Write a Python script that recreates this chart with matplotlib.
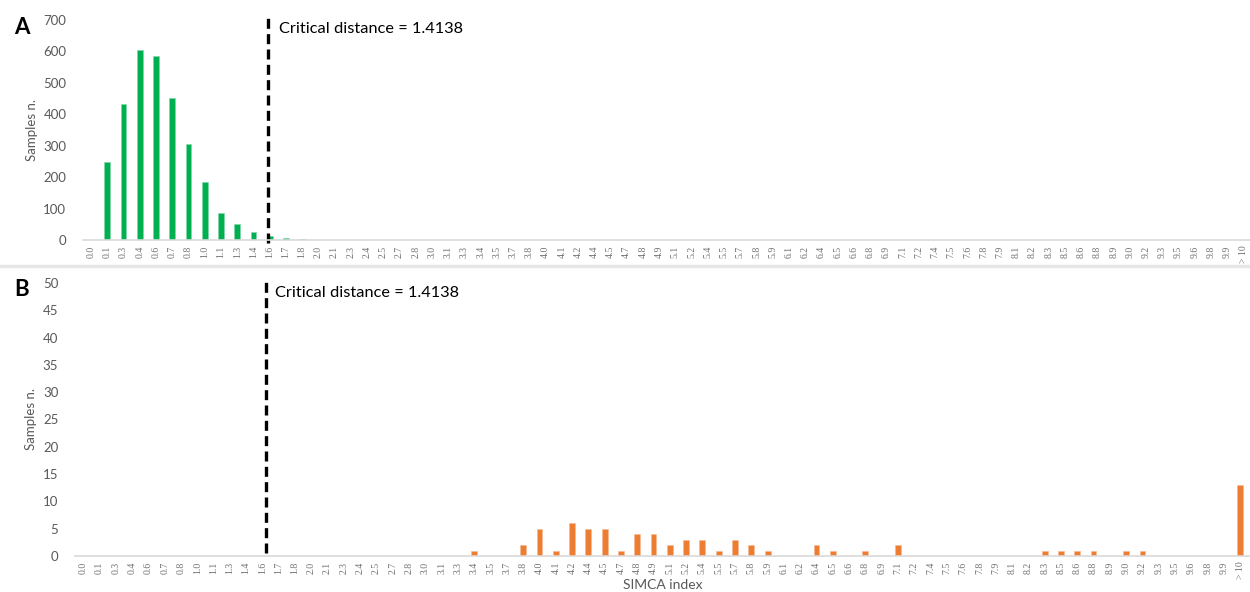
import numpy as np
import matplotlib
matplotlib.use('Agg')
import matplotlib.pyplot as plt

plt.rcParams['font.family'] = ['Lato', 'DejaVu Sans']

# bin labels (multiples of the critical distance / 10)
labels = ['0.0', '0.1', '0.3', '0.4', '0.6', '0.7', '0.8', '1.0', '1.1', '1.3', '1.4', '1.6',
          '1.7', '1.8', '2.0', '2.1', '2.3', '2.4', '2.5', '2.7', '2.8', '3.0', '3.1', '3.3',
          '3.4', '3.5', '3.7', '3.8', '4.0', '4.1', '4.2', '4.4', '4.5', '4.7', '4.8', '4.9',
          '5.1', '5.2', '5.4', '5.5', '5.7', '5.8', '5.9', '6.1', '6.2', '6.4', '6.5', '6.6',
          '6.8', '6.9', '7.1', '7.2', '7.4', '7.5', '7.6', '7.8', '7.9', '8.1', '8.2', '8.3',
          '8.5', '8.6', '8.8', '8.9', '9.0', '9.2', '9.3', '9.5', '9.6', '9.8', '9.9', '> 10']

# panel A: counts in the first bins, rest zero
countsA_head = [0, 247, 432, 604, 584, 453, 304, 183, 87, 51, 27, 14, 6, 3]
countsA = countsA_head + [0] * (len(labels) - len(countsA_head))

# panel B: non-zero bins
countsB_nz = {'3.4': 1, '3.8': 2, '4.0': 5, '4.1': 1, '4.2': 6, '4.4': 5, '4.5': 5,
              '4.7': 1, '4.8': 4, '4.9': 4, '5.1': 2, '5.2': 3, '5.4': 3, '5.5': 1,
              '5.7': 3, '5.8': 2, '5.9': 1, '6.4': 2, '6.5': 1, '6.8': 1, '7.1': 2,
              '8.3': 1, '8.5': 1, '8.6': 1, '8.8': 1, '9.0': 1, '9.2': 1, '> 10': 13}
countsB = [countsB_nz.get(l, 0) for l in labels]

crit_text = 'Critical distance = 1.4138'
gray = '#595959'

fig = plt.figure(figsize=(12.5, 5.92), dpi=100)
axA = fig.add_axes([83/1250, 1 - 240/592, 1 - 83/1250, 220/592])
axB = fig.add_axes([75/1250, 1 - 556/592, 1 - 75/1250, 273/592])

x = np.arange(len(labels))

def style(ax, ymax, step, xmax):
    ax.set_xlim(-0.5, xmax)
    ax.set_ylim(0, ymax)
    ax.set_yticks(np.arange(0, ymax + 1, step))
    ax.set_xticks(x)
    ax.set_xticklabels(labels, rotation=90, fontsize=7, color='#707070',
                       family=['Liberation Serif', 'DejaVu Serif'])
    ax.tick_params(axis='y', labelsize=9.5, labelcolor=gray, length=0, pad=12)
    ax.tick_params(axis='x', length=0, pad=4)
    for s in ['top', 'right', 'left']:
        ax.spines[s].set_visible(False)
    ax.spines['bottom'].set_color('#D9D9D9')
    ax.spines['bottom'].set_linewidth(1.2)
    ax.set_ylabel('Samples n.', fontsize=9.5, color=gray, labelpad=4)

axA.bar(x, countsA, width=0.36, color='#00B050', edgecolor='#7fd7a7', linewidth=0.4)
style(axA, 700, 100, 71.4)
axA.plot([10.9, 10.9], [-10, 716], ls=(0, (3, 1.6)), color='black', lw=2.4, clip_on=False)
axA.text(11.6, 672, crit_text, fontsize=11.8, color='black', va='center')

axB.bar(x, countsB, width=0.36, color='#ED7D31', edgecolor='#f5b990', linewidth=0.4)
style(axB, 50, 5, 71.6)
axB.plot([11.2, 11.2], [0.5, 50.5], ls=(0, (3, 1.6)), color='black', lw=2.4, clip_on=False)
axB.text(11.8, 48.2, crit_text, fontsize=11.8, color='black', va='center')
axB.set_xlabel('SIMCA index', fontsize=10, color=gray, labelpad=0)

fig.text(14/1250, 1 - 28/592, 'A', fontsize=16, fontweight='bold', va='center')
fig.text(14/1250, 1 - 290/592, 'B', fontsize=16, fontweight='bold', va='center')
fig.add_artist(plt.Line2D([0, 1], [1 - 266/592, 1 - 266/592], color='#E6E6E6', lw=2.5))

fig.savefig('out.png', dpi=100)
